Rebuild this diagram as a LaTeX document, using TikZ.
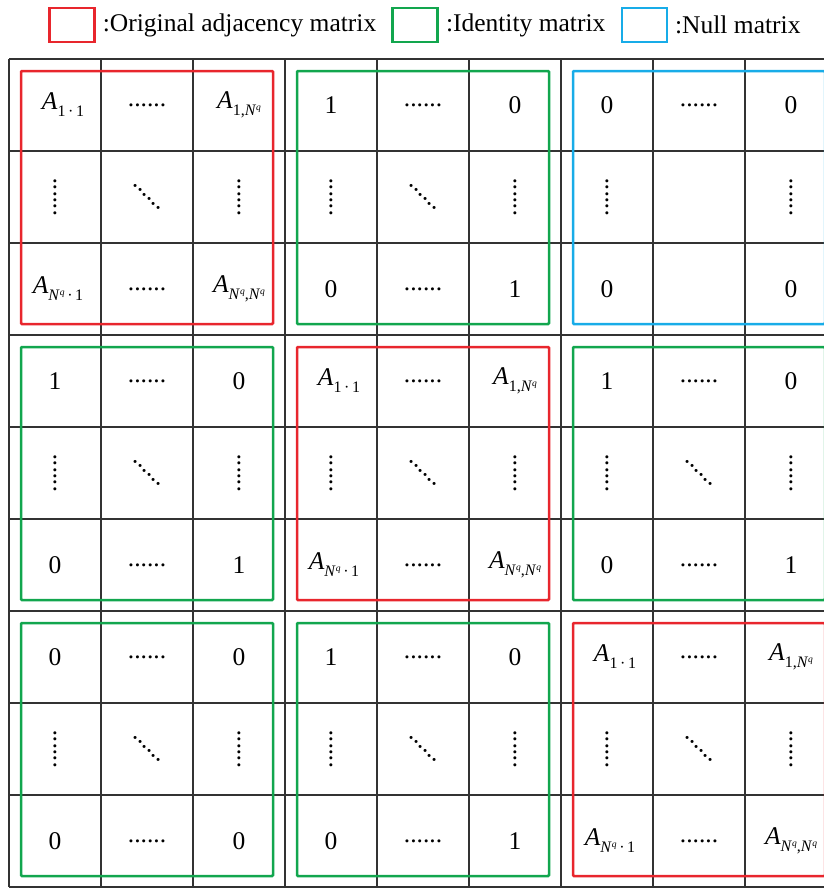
\documentclass[tikz,border=0pt]{standalone}
\usepackage{fontspec}
\setmainfont{Liberation Serif}
\usepackage{graphicx}
\usepackage{xcolor}
\definecolor{adjRed}{HTML}{E8262D}
\definecolor{idGreen}{HTML}{12A64E}
\definecolor{nullBlue}{HTML}{18ACE8}
\definecolor{gridGray}{HTML}{333333}
\usetikzlibrary{positioning}

\newcommand{\cellsz}{92}
\newcommand{\hd}{......}
\newcommand{\vd}{\rotatebox{90}{......}}
\newcommand{\dd}{\rotatebox{-45}{......}}
\newcommand{\sq}{\raisebox{0.75ex}{\fontsize{9.5}{9.5}\selectfont\textit{q}}}
\newcommand{\Asub}[1]{\textit{A}\raisebox{-0.6ex}{\fontsize{16}{16}\selectfont #1}}
\newcommand{\Aone}{\hspace{16pt}\Asub{1\,·\,1}}
\newcommand{\Atop}{\Asub{1,\textit{N}\sq}}
\newcommand{\Aleft}{\hspace{6pt}\Asub{\textit{N}\sq\,·\,1}}
\newcommand{\Alast}{\Asub{\textit{N}\sq,\textit{N}\sq}}

\begin{document}
\begin{tikzpicture}[x=1pt,y=-1pt,every node/.style={font=\fontsize{25.5}{30}\selectfont, inner sep=0pt},
  keybox/.style={draw, line width=2.4pt, minimum width=45pt, minimum height=34pt},
  gridline/.style={gridGray, line width=2pt},
  frame/.style={line width=2.5pt, rounded corners=1pt}]
  \useasboundingbox (0,0) rectangle (824,889);
  \clip (0,0) rectangle (824,889);
  % legend
  \node[keybox, adjRed] (keyA) at (72,25) {};
  \node[right=7pt of keyA] (keyAtext) {:Original adjacency matrix};
  \node[keybox, idGreen, right=15pt of keyAtext] (keyI) {};
  \node[right=7pt of keyI] (keyItext) {:Identity matrix};
  \node[keybox, nullBlue, right=15pt of keyItext] (keyN) {};
  \node[right=7pt of keyN] (keyNtext) {:Null matrix};
  % table lines
  \foreach \k in {0,...,9}{
    \draw[gridline] ({9+\k*\cellsz},59) -- ({9+\k*\cellsz},887);
    \draw[gridline] (9,{59+\k*\cellsz}) -- (840,{59+\k*\cellsz});
  }
  % the nine blocks
  \foreach \bi/\bj/\col/\tl/\tr/\bl/\br/\dg/\bh in {
    0/0/adjRed/\Aone/\Atop/\Aleft/\Alast/\dd/\hd,
    0/1/idGreen/1/0/0/1/\dd/\hd,
    0/2/nullBlue/0/0/0/0/{}/{},
    1/0/idGreen/1/0/0/1/\dd/\hd,
    1/1/adjRed/\Aone/\Atop/\Aleft/\Alast/\dd/\hd,
    1/2/idGreen/1/0/0/1/\dd/\hd,
    2/0/idGreen/0/0/0/0/\dd/\hd,
    2/1/idGreen/1/0/0/1/\dd/\hd,
    2/2/adjRed/\Aone/\Atop/\Aleft/\Alast/\dd/\hd}{
    \pgfmathsetmacro{\xa}{9+3*\bj*\cellsz}
    \pgfmathsetmacro{\ya}{59+3*\bi*\cellsz}
    \node (m\bi\bj-11) at ({\xa+0.5*\cellsz},{\ya+0.5*\cellsz}) {\tl};
    \node (m\bi\bj-12) at ({\xa+1.5*\cellsz},{\ya+0.5*\cellsz}) {\hd};
    \node (m\bi\bj-13) at ({\xa+2.5*\cellsz},{\ya+0.5*\cellsz}) {\tr};
    \node (m\bi\bj-21) at ({\xa+0.5*\cellsz},{\ya+1.5*\cellsz}) {\vd};
    \node (m\bi\bj-22) at ({\xa+1.5*\cellsz},{\ya+1.5*\cellsz}) {\dg};
    \node (m\bi\bj-23) at ({\xa+2.5*\cellsz},{\ya+1.5*\cellsz}) {\vd};
    \node (m\bi\bj-31) at ({\xa+0.5*\cellsz},{\ya+2.5*\cellsz}) {\bl};
    \node (m\bi\bj-32) at ({\xa+1.5*\cellsz},{\ya+2.5*\cellsz}) {\bh};
    \node (m\bi\bj-33) at ({\xa+2.5*\cellsz},{\ya+2.5*\cellsz}) {\br};
    \draw[frame, \col] ({\xa+12},{\ya+12}) rectangle ({\xa+3*\cellsz-12},{\ya+3*\cellsz-11});
  }
\end{tikzpicture}
\end{document}
